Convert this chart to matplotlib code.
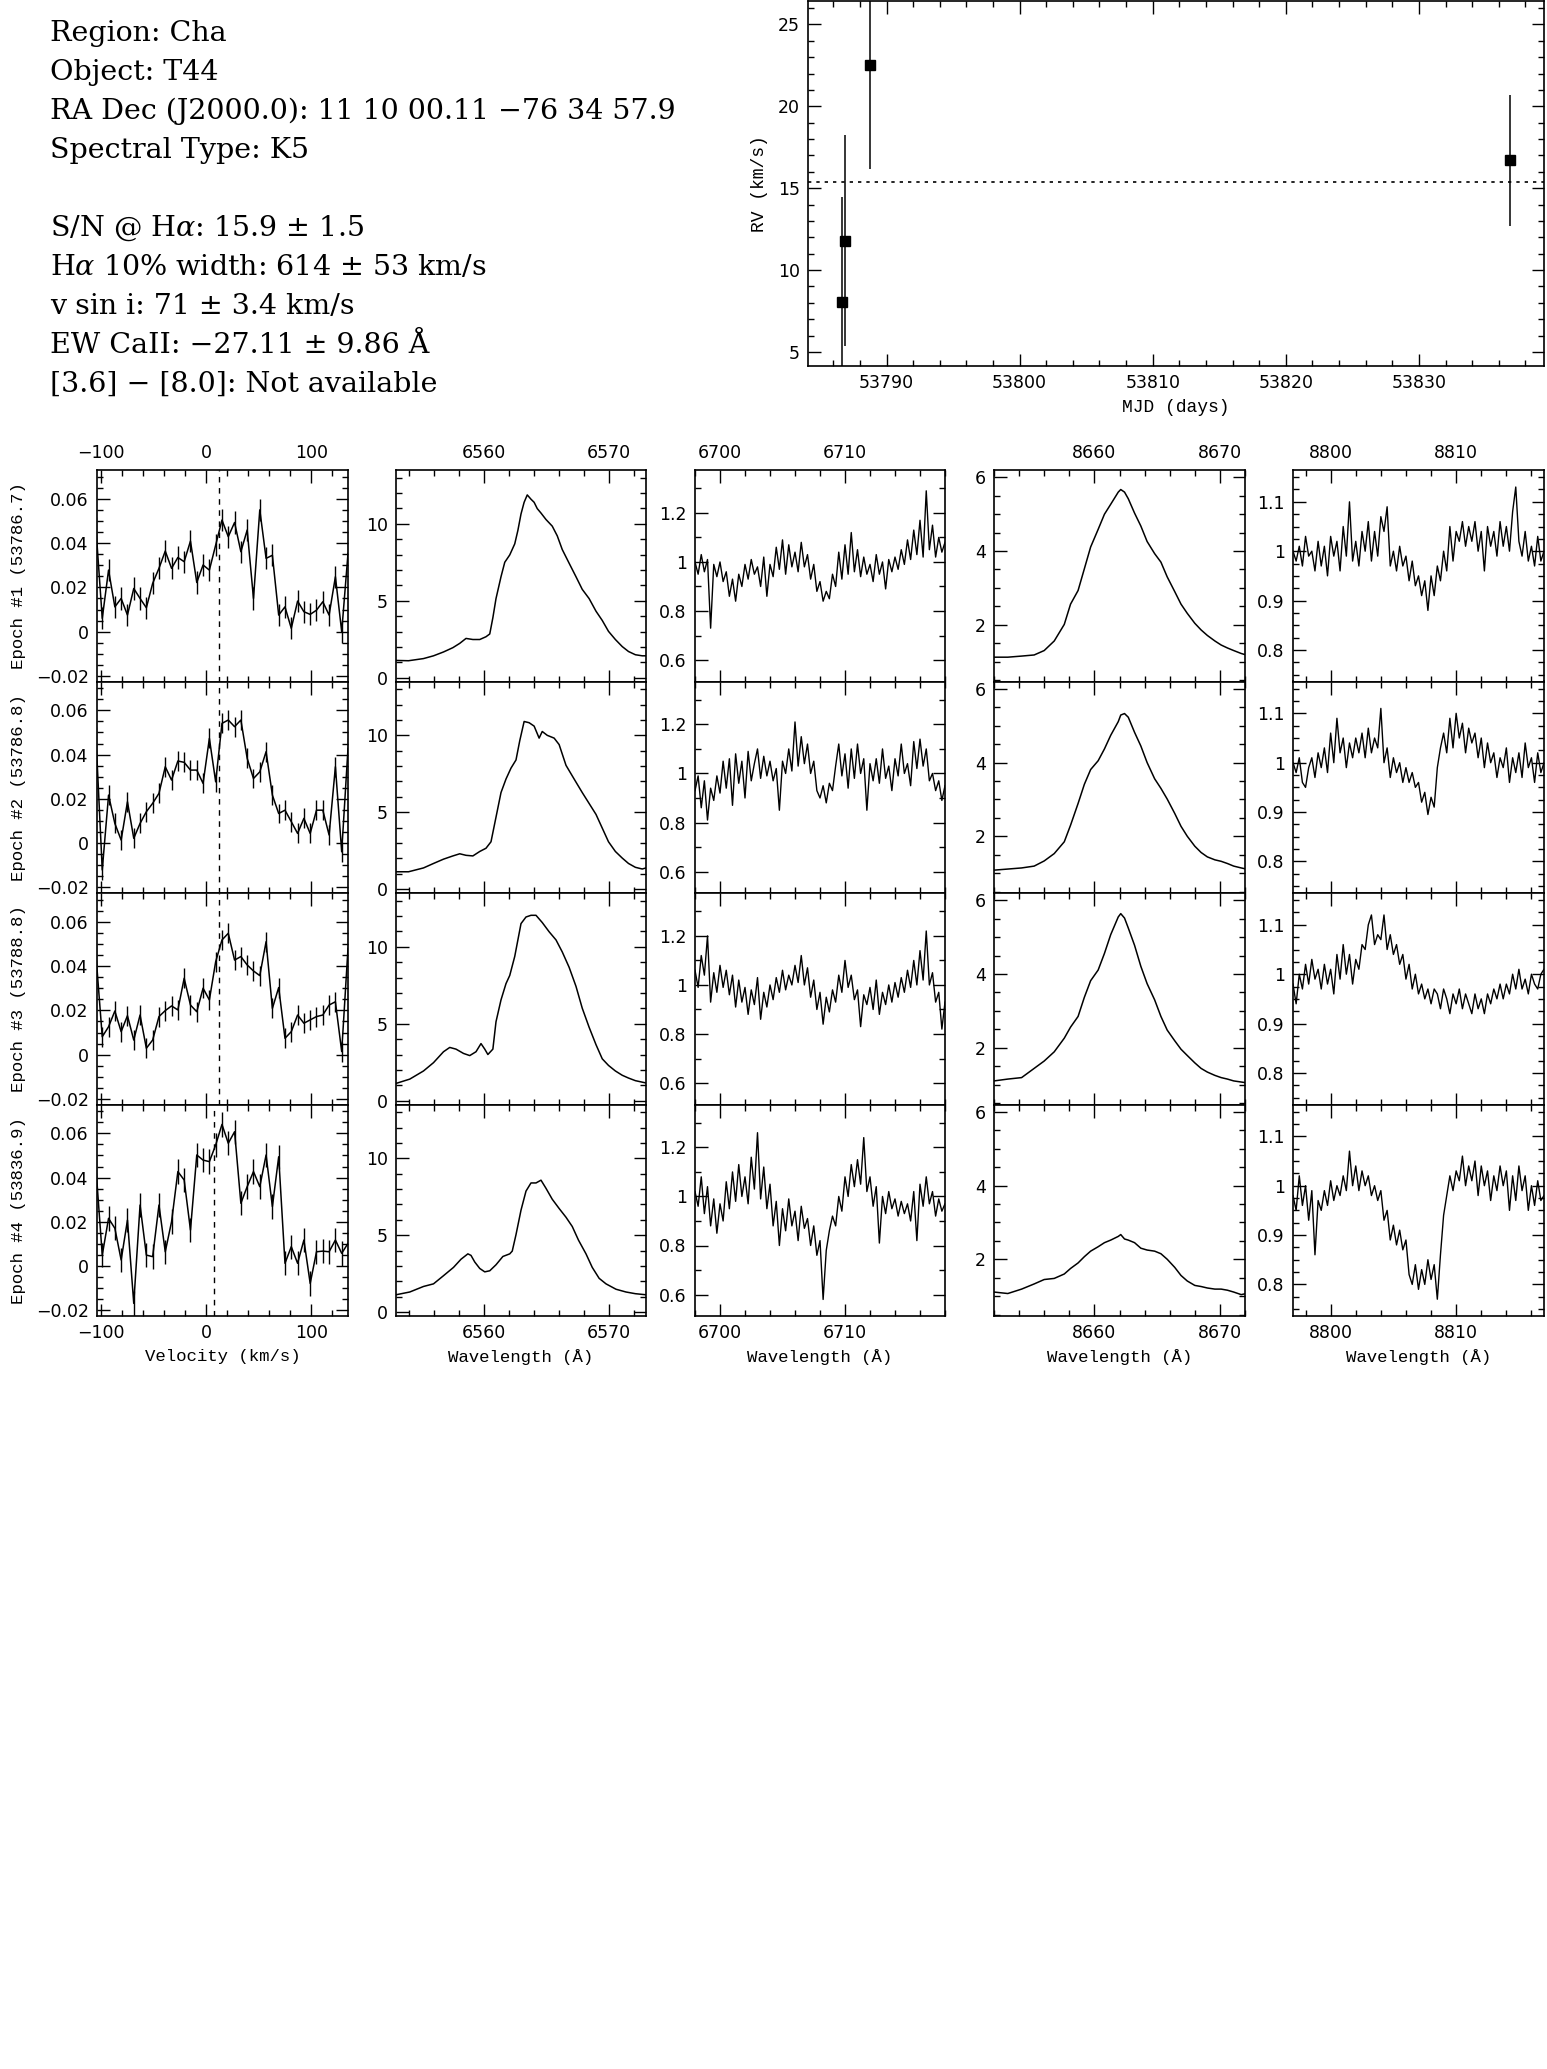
import numpy as np
import matplotlib

matplotlib.use("Agg")  # no display in the sandbox
import matplotlib.pyplot as plt
from matplotlib.ticker import MultipleLocator, FuncFormatter

# ---------------- data ----------------
INFO_LINES = [
    "Region: Cha",
    "Object: T44",
    "RA Dec (J2000.0): 11 10 00.11 \u221276 34 57.9",
    "Spectral Type: K5",
    "",
    "S/N @ H$\\alpha$: 15.9 \u00b1 1.5",
    "H$\\alpha$ 10% width: 614 \u00b1 53 km/s",
    "v sin i: 71 \u00b1 3.4 km/s",
    "EW CaII: \u221227.11 \u00b1 9.86 \u00c5",
    "[3.6] \u2212 [8.0]: Not available",
]

# radial velocity vs date
RV_MJD = [53786.65, 53786.85, 53788.75, 53836.85]
RV_VAL = [8.06, 11.8, 22.55, 16.7]
RV_ERR = [6.4, 6.45, 6.35, 3.98]
RV_MEAN = 15.4

EPOCH_MJD = ["53786.7", "53786.8", "53788.8", "53836.9"]

# cross-correlation (velocity) panels
VEL = [-105, -99, -93, -87, -81, -75, -69, -63, -57, -51, -45, -39, -33, -27,
       -21, -15, -9, -3, 3, 9, 15, 21, 27, 33, 39, 45, 51, 57, 63, 69, 75, 81,
       87, 93, 99, 105, 111, 117, 123, 129, 135]
VEL_EP1 = [0.0466, 0.0060, 0.0278, 0.0112, 0.0150, 0.0075, 0.0195, 0.0150, 0.0108, 0.0218,
           0.0286, 0.0364, 0.0286, 0.0335, 0.0316, 0.0409, 0.0222, 0.0301, 0.0278, 0.0391,
           0.0504, 0.0429, 0.0493, 0.0361, 0.0459, 0.0150, 0.0550, 0.0331, 0.0345, 0.0075,
           0.0112, 0.0015, 0.0138, 0.0090, 0.0078, 0.0097, 0.0135, 0.0075, 0.0248, 0.0000,
           0.0353]
VEL_EP2 = [0.0480, -0.0121, 0.0217, 0.0089, 0.0014, 0.0187, 0.0022, 0.0089, 0.0142, 0.0180,
           0.0225, 0.0345, 0.0285, 0.0371, 0.0365, 0.0330, 0.0330, 0.0270, 0.0473, 0.0277,
           0.0541, 0.0556, 0.0526, 0.0556, 0.0383, 0.0292, 0.0322, 0.0413, 0.0217, 0.0134,
           0.0149, 0.0097, 0.0044, 0.0112, 0.0044, 0.0149, 0.0149, 0.0037, 0.0345, -0.0039,
           0.0428]
VEL_EP3 = [0.0450, 0.0081, 0.0126, 0.0197, 0.0104, 0.0176, 0.0066, 0.0179, 0.0029, 0.0066,
           0.0172, 0.0199, 0.0220, 0.0202, 0.0345, 0.0224, 0.0194, 0.0300, 0.0247, 0.0420,
           0.0518, 0.0548, 0.0427, 0.0443, 0.0405, 0.0378, 0.0357, 0.0510, 0.0209, 0.0303,
           0.0074, 0.0104, 0.0179, 0.0142, 0.0157, 0.0172, 0.0179, 0.0224, 0.0239, 0.0014,
           0.0480]
VEL_EP4 = [0.0442, 0.0050, 0.0216, 0.0171, 0.0028, 0.0208, -0.0168, 0.0276, 0.0050, 0.0043,
           0.0276, 0.0065, 0.0201, 0.0427, 0.0389, 0.0163, 0.0502, 0.0479, 0.0472, 0.0547,
           0.0640, 0.0555, 0.0607, 0.0284, 0.0359, 0.0427, 0.0359, 0.0502, 0.0269, 0.0494,
           0.0013, 0.0088, 0.0013, 0.0118, -0.0078, 0.0065, 0.0068, 0.0065, 0.0118, 0.0058,
           0.0103]
VEL_ERR = [0.005, 0.0045, 0.0045, 0.0055]
VEL_CENTER = [12.5, 12.5, 12.5, 7.0]

# H-alpha profiles
HA_WAVE_1 = [6553.0, 6554.0, 6555.2, 6556.0, 6556.8, 6557.55, 6558.1, 6558.6, 6559.15, 6559.7,
             6560.2, 6560.5, 6560.75, 6561.0, 6561.4, 6561.7, 6562.1, 6562.5, 6562.75, 6563.0,
             6563.25, 6563.5, 6563.8, 6564.05, 6564.3, 6564.6, 6565.0, 6565.5, 6565.9, 6566.3,
             6566.85, 6567.4, 6567.9, 6568.45, 6569.0, 6569.5, 6570.0, 6570.55, 6571.1, 6571.6,
             6572.15, 6572.7, 6573.0]
HA_FLUX_1 = [1.12, 1.1, 1.24, 1.42, 1.67, 1.95, 2.23, 2.55, 2.48, 2.48,
             2.66, 2.84, 3.9, 5.14, 6.56, 7.5, 7.98, 8.7, 9.57, 10.64,
             11.4, 11.88, 11.6, 11.4, 10.99, 10.7, 10.28, 9.85, 9.22, 8.33,
             7.44, 6.56, 5.74, 5.14, 4.32, 3.72, 3.01, 2.48, 2.02, 1.7,
             1.49, 1.42, 1.42]
HA_WAVE_2 = [6553.0, 6554.0, 6555.2, 6556.0, 6556.8, 6557.55, 6558.1, 6558.6, 6559.15, 6559.7,
             6560.2, 6560.6, 6561.0, 6561.4, 6561.8, 6562.2, 6562.6, 6562.9, 6563.25, 6563.65,
             6564.05, 6564.45, 6564.7, 6565.1, 6565.65, 6566.05, 6566.6, 6567.25, 6567.9, 6568.45,
             6569.0, 6569.5, 6570.0, 6570.55, 6571.1, 6571.6, 6572.15, 6572.7, 6573.0]
HA_FLUX_2 = [1.13, 1.13, 1.38, 1.67, 1.95, 2.16, 2.3, 2.2, 2.16, 2.45,
             2.66, 3.08, 4.68, 6.28, 7.16, 7.87, 8.4, 9.65, 10.9, 10.82,
             10.6, 9.82, 10.25, 10.0, 9.82, 9.4, 8.05, 7.16, 6.28, 5.57,
             4.86, 3.97, 3.08, 2.45, 2.02, 1.67, 1.42, 1.31, 1.38]
HA_WAVE_3 = [6553.0, 6554.1, 6555.2, 6556.0, 6556.8, 6557.3, 6557.8, 6558.4, 6558.9, 6559.4,
             6559.8, 6560.1, 6560.35, 6560.75, 6561.0, 6561.4, 6561.8, 6562.1, 6562.5, 6563.0,
             6563.4, 6563.8, 6564.2, 6564.7, 6565.25, 6565.8, 6566.3, 6566.85, 6567.4, 6567.9,
             6568.45, 6569.0, 6569.5, 6570.0, 6570.55, 6571.1, 6571.6, 6572.15, 6573.0]
HA_FLUX_3 = [1.12, 1.4, 1.93, 2.47, 3.18, 3.46, 3.35, 3.07, 2.93, 3.18,
             3.71, 3.35, 3.0, 3.35, 5.13, 6.55, 7.61, 8.14, 9.38, 11.51,
             11.94, 12.05, 12.05, 11.58, 10.98, 10.45, 9.67, 8.67, 7.43, 6.01,
             4.77, 3.64, 2.72, 2.29, 1.93, 1.65, 1.47, 1.3, 1.15]
HA_WAVE_4 = [6553.0, 6554.1, 6555.2, 6556.0, 6556.8, 6557.6, 6558.2, 6558.75, 6559.0, 6559.3,
             6559.7, 6560.1, 6560.5, 6561.0, 6561.55, 6562.1, 6562.3, 6562.6, 6563.0, 6563.4,
             6563.8, 6564.2, 6564.6, 6565.0, 6565.5, 6566.05, 6566.6, 6567.1, 6567.6, 6568.2,
             6568.7, 6569.25, 6569.8, 6570.6, 6571.4, 6572.15, 6573.0]
HA_FLUX_4 = [1.13, 1.31, 1.67, 1.84, 2.37, 2.91, 3.44, 3.79, 3.69, 3.26,
             2.84, 2.62, 2.69, 3.08, 3.62, 3.79, 3.97, 5.04, 6.63, 7.87,
             8.4, 8.4, 8.58, 8.05, 7.34, 6.74, 6.17, 5.57, 4.68, 3.79,
             2.91, 2.2, 1.84, 1.49, 1.31, 1.2, 1.13]

# Li 6708 region, sampled every 0.25 A from 6698 to 6718
LI_WAVE = np.linspace(6698.0, 6718.0, 81)
LI_FLUX_1 = [1.00, 0.95, 1.03, 0.96, 1.01, 0.73, 0.99, 0.94, 1.00, 0.92,
             0.96, 0.86, 0.93, 0.84, 0.95, 0.90, 0.99, 0.93, 1.01, 0.95,
             0.98, 0.90, 1.02, 0.86, 0.99, 0.94, 1.06, 0.97, 1.09, 0.95,
             1.07, 0.98, 1.04, 0.96, 1.08, 0.98, 1.03, 0.93, 0.99, 0.88,
             0.92, 0.84, 0.88, 0.85, 0.95, 0.90, 1.04, 0.93, 1.07, 0.95,
             1.12, 0.96, 1.05, 0.94, 1.02, 0.95, 0.99, 0.92, 1.03, 0.95,
             1.00, 0.89, 1.01, 0.96, 1.02, 0.97, 1.05, 0.99, 1.09, 1.01,
             1.13, 1.03, 1.17, 1.02, 1.29, 1.05, 1.15, 1.02, 1.10, 1.04,
             1.08]
LI_FLUX_2 = [0.93, 0.99, 0.86, 0.97, 0.81, 0.94, 0.89, 0.99, 0.92, 1.05,
             0.94, 1.06, 0.87, 1.08, 0.96, 1.05, 0.90, 1.09, 0.97, 1.04,
             1.10, 0.98, 1.07, 0.99, 1.05, 0.97, 1.02, 0.85, 1.05, 1.00,
             1.10, 1.01, 1.21, 1.03, 1.15, 1.04, 1.12, 1.00, 1.05, 0.93,
             0.90, 0.95, 0.88, 0.96, 0.93, 1.03, 1.12, 0.99, 1.08, 0.94,
             1.10, 0.98, 1.12, 1.00, 1.06, 0.85, 1.04, 0.97, 1.06, 0.96,
             1.10, 0.98, 1.03, 0.93, 1.06, 0.99, 1.12, 1.00, 1.04, 0.95,
             1.13, 1.02, 1.14, 1.03, 1.10, 0.97, 1.00, 0.93, 0.97, 0.89,
             0.95]
LI_FLUX_3 = [1.06, 0.99, 1.12, 1.04, 1.20, 0.93, 1.05, 0.97, 1.08, 0.99,
             1.06, 0.96, 1.04, 0.91, 1.02, 0.93, 0.99, 0.88, 0.98, 0.92,
             1.03, 0.86, 0.97, 0.91, 1.00, 0.94, 1.03, 0.97, 1.06, 0.98,
             1.04, 1.00, 1.08, 1.01, 1.12, 1.00, 1.07, 0.95, 1.02, 0.90,
             0.97, 0.84, 0.95, 0.89, 0.98, 0.93, 1.04, 0.97, 1.10, 0.99,
             1.04, 0.94, 0.98, 0.83, 0.96, 0.92, 0.99, 0.90, 1.02, 0.88,
             0.97, 0.92, 1.00, 0.93, 1.01, 0.95, 1.03, 0.97, 1.06, 0.99,
             1.10, 1.00, 1.14, 1.02, 1.22, 1.00, 1.05, 0.93, 0.97, 0.82,
             0.93]
LI_FLUX_4 = [1.02, 0.96, 1.08, 0.93, 1.04, 0.88, 0.99, 0.85, 0.97, 0.90,
             1.06, 0.95, 1.10, 0.98, 1.13, 1.00, 1.08, 0.97, 1.16, 1.03,
             1.26, 0.99, 1.12, 0.95, 1.05, 0.88, 0.98, 0.80, 0.95, 0.86,
             0.99, 0.88, 0.94, 0.82, 0.96, 0.87, 0.91, 0.80, 0.88, 0.76,
             0.82, 0.58, 0.78, 0.86, 0.92, 0.88, 1.00, 0.94, 1.08, 1.00,
             1.13, 1.04, 1.15, 1.05, 1.24, 1.02, 1.08, 0.96, 1.04, 0.81,
             1.00, 0.93, 1.02, 0.95, 0.99, 0.92, 0.98, 0.93, 0.97, 0.90,
             1.02, 0.82, 1.05, 0.96, 1.08, 0.97, 1.02, 0.92, 0.99, 0.94,
             0.97]

# Ca II 8662 emission
CA_WAVE = [8652.0, 8653.1, 8654.2, 8655.2, 8656.0, 8656.8, 8657.6, 8658.1, 8658.7, 8659.2,
           8659.7, 8660.3, 8660.8, 8661.3, 8661.9, 8662.1, 8662.4, 8662.7, 8663.2, 8663.7,
           8664.2, 8664.8, 8665.3, 8665.8, 8666.4, 8666.9, 8667.4, 8668.0, 8668.5, 8669.0,
           8669.6, 8670.1, 8670.6, 8671.1, 8671.7, 8672.1]
CA_FLUX_1 = [1.12, 1.12, 1.15, 1.18, 1.3, 1.56, 2.01, 2.56, 2.93, 3.52,
             4.11, 4.59, 5.0, 5.27, 5.6, 5.67, 5.6, 5.42, 5.03, 4.68,
             4.26, 3.93, 3.7, 3.3, 2.9, 2.56, 2.31, 2.04, 1.86, 1.71,
             1.56, 1.45, 1.37, 1.3, 1.22, 1.18]
CA_FLUX_2 = [1.08, 1.11, 1.14, 1.19, 1.33, 1.53, 1.85, 2.3, 2.89, 3.41,
             3.81, 4.05, 4.37, 4.74, 5.11, 5.29, 5.33, 5.23, 4.82, 4.45,
             4.0, 3.56, 3.3, 3.01, 2.62, 2.27, 2.0, 1.73, 1.56, 1.44,
             1.36, 1.32, 1.26, 1.19, 1.14, 1.11]
CA_FLUX_3 = [1.1, 1.15, 1.19, 1.44, 1.64, 1.89, 2.26, 2.56, 2.85, 3.37,
             3.82, 4.11, 4.56, 5.07, 5.55, 5.64, 5.52, 5.25, 4.78, 4.21,
             3.74, 3.3, 2.85, 2.48, 2.19, 1.96, 1.79, 1.59, 1.44, 1.34,
             1.25, 1.19, 1.15, 1.1, 1.07, 1.05]
CA_FLUX_4 = [1.11, 1.07, 1.19, 1.33, 1.45, 1.48, 1.6, 1.75, 1.9, 2.07,
             2.22, 2.34, 2.45, 2.52, 2.62, 2.67, 2.55, 2.52, 2.45, 2.3,
             2.25, 2.22, 2.15, 2.0, 1.78, 1.56, 1.41, 1.29, 1.26, 1.22,
             1.19, 1.19, 1.16, 1.11, 1.04, 1.07]

# 8797-8817 A region, sampled every 0.25 A
IR_WAVE = np.linspace(8797.0, 8817.0, 81)
IR_FLUX_1 = [1.00, 0.98, 1.01, 0.97, 1.03, 0.99, 1.00, 0.96, 1.02, 0.97,
             1.01, 0.95, 1.03, 0.99, 1.02, 0.96, 1.05, 0.99, 1.10, 0.98,
             1.02, 0.97, 1.04, 1.00, 1.06, 0.98, 1.04, 0.99, 1.07, 1.04,
             1.09, 0.97, 1.00, 0.96, 1.01, 0.97, 0.99, 0.94, 0.98, 0.93,
             0.95, 0.91, 0.94, 0.88, 0.95, 0.91, 0.97, 0.94, 1.00, 0.96,
             1.05, 0.98, 1.04, 1.02, 1.06, 1.01, 1.05, 1.02, 1.06, 1.00,
             1.04, 0.96, 1.05, 1.01, 1.04, 0.99, 1.06, 1.01, 1.05, 1.00,
             1.08, 1.13, 1.02, 0.99, 1.04, 0.98, 1.01, 0.97, 1.03, 0.98,
             1.00]
IR_FLUX_2 = [1.00, 0.98, 1.01, 0.96, 0.95, 0.99, 1.01, 0.97, 1.02, 0.99,
             1.03, 0.98, 1.06, 1.00, 1.09, 1.02, 1.05, 0.99, 1.04, 1.01,
             1.05, 1.02, 1.06, 1.01, 1.07, 1.02, 1.05, 1.03, 1.11, 1.00,
             1.03, 0.97, 1.01, 0.98, 1.00, 0.96, 0.99, 0.96, 0.98, 0.95,
             0.96, 0.92, 0.94, 0.895, 0.93, 0.91, 0.99, 1.03, 1.06, 1.02,
             1.09, 1.03, 1.10, 1.05, 1.08, 1.02, 1.07, 1.04, 1.06, 1.01,
             1.05, 0.99, 1.04, 1.00, 1.02, 0.97, 1.01, 0.99, 1.03, 0.96,
             1.01, 0.98, 1.02, 0.97, 1.04, 0.99, 1.01, 0.96, 1.02, 0.98,
             1.00]
IR_FLUX_3 = [0.98, 0.94, 1.00, 0.97, 1.02, 0.98, 1.03, 0.99, 1.01, 0.97,
             1.02, 0.98, 1.01, 0.96, 1.04, 0.99, 1.06, 1.00, 1.04, 0.98,
             1.03, 1.01, 1.06, 1.05, 1.10, 1.12, 1.06, 1.08, 1.07, 1.12,
             1.05, 1.08, 1.04, 1.06, 1.02, 1.04, 0.99, 1.02, 0.97, 1.00,
             0.96, 0.98, 0.95, 0.97, 0.94, 0.97, 0.96, 0.93, 0.97, 0.95,
             0.92, 0.96, 0.94, 0.97, 0.93, 0.96, 0.94, 0.92, 0.96, 0.93,
             0.95, 0.92, 0.96, 0.94, 0.97, 0.95, 0.98, 0.95, 0.98, 0.96,
             1.00, 0.97, 1.01, 0.97, 0.99, 0.96, 1.00, 0.98, 0.97, 1.00,
             1.01]
IR_FLUX_4 = [0.98, 0.95, 1.02, 0.96, 1.00, 0.93, 0.99, 0.86, 0.97, 0.95,
             0.99, 0.96, 1.01, 0.97, 1.00, 0.98, 1.02, 0.99, 1.07, 1.00,
             1.04, 0.99, 1.03, 1.00, 1.02, 0.98, 1.00, 0.97, 0.99, 0.93,
             0.95, 0.89, 0.92, 0.88, 0.91, 0.87, 0.89, 0.82, 0.80, 0.84,
             0.79, 0.83, 0.80, 0.85, 0.81, 0.84, 0.77, 0.86, 0.94, 0.98,
             1.02, 0.99, 1.03, 1.01, 1.06, 1.00, 1.04, 1.01, 1.05, 0.98,
             1.04, 1.00, 1.03, 0.97, 1.02, 0.99, 1.04, 1.00, 1.03, 0.95,
             1.02, 0.97, 1.04, 0.99, 1.02, 0.95, 1.00, 0.96, 1.01, 0.97,
             0.98]

# ---------------- figure ----------------
W, H = 1547, 2069
plt.rcParams["font.family"] = "DejaVu Sans"
plt.rcParams["mathtext.fontset"] = "dejavuserif"

fig = plt.figure(figsize=(W / 100, H / 100), dpi=100)
fig.patch.set_facecolor("white")

LABEL_FONT = "Liberation Mono"


def px_axes(x0, y0, x1, y1):
    # axes placed by pixel box (top-left origin like the picture)
    return fig.add_axes([x0 / W, 1 - y1 / H, (x1 - x0) / W, (y1 - y0) / H])


def fmt(v, pos):
    return ("%g" % round(v, 6)).replace("-", "\u2212")


def style(ax, xmaj, xmin, ymaj, ymin):
    ax.xaxis.set_major_locator(MultipleLocator(xmaj))
    ax.xaxis.set_minor_locator(MultipleLocator(xmin))
    ax.yaxis.set_major_locator(MultipleLocator(ymaj))
    ax.yaxis.set_minor_locator(MultipleLocator(ymin))
    ax.xaxis.set_major_formatter(FuncFormatter(fmt))
    ax.yaxis.set_major_formatter(FuncFormatter(fmt))
    ax.tick_params(which="both", direction="in", top=True, right=True,
                   width=1.0, labelsize=12.5, pad=6)
    ax.tick_params(which="major", length=9)
    ax.tick_params(which="minor", length=4.5)
    for s in ax.spines.values():
        s.set_linewidth(1.2)


# text block, upper left
y = 41
for line in INFO_LINES:
    if line:
        fig.text(50 / W, 1 - y / H, line, family="DejaVu Serif", fontsize=20.5,
                 ha="left", va="baseline")
    y += 39

# RV plot, upper right
ax = px_axes(808, 1, 1544, 366)
ax.errorbar(RV_MJD, RV_VAL, yerr=RV_ERR, fmt="s", color="k", ms=6.5,
            elinewidth=1.1, capsize=0)
ax.axhline(RV_MEAN, color="k", lw=1.2, ls=(0, (2, 3)))
ax.set_xlim(53784.1, 53839.4)
ax.set_ylim(4.14, 26.43)
style(ax, 10, 2, 5, 1)
ax.set_xlabel("MJD (days)", family=LABEL_FONT, fontsize=13)
ax.set_ylabel("RV (km/s)", family=LABEL_FONT, fontsize=13)
ax.xaxis.set_label_coords(0.5, -0.09)
ax.yaxis.set_label_coords(-0.054, 0.5)

# grid of spectra
col_x = [(97, 348), (396, 646), (695, 945), (994, 1245), (1293, 1544)]
row_y = [470, 681.5, 893, 1104.5, 1316]

col_setup = [
    dict(xlim=(-104, 135), tick=(100, 20), ylim=(-0.0225, 0.073), ytick=(0.02, 0.005),
         xlabel="Velocity (km/s)"),
    dict(xlim=(6553, 6573), tick=(10, 2), ylim=(-0.25, 13.5), ytick=(5, 1),
         xlabel="Wavelength (\u00c5)"),
    dict(xlim=(6698, 6718), tick=(10, 2), ylim=(0.5125, 1.375), ytick=(0.2, 0.1),
         xlabel="Wavelength (\u00c5)"),
    dict(xlim=(8652, 8672), tick=(10, 2), ylim=(0.46, 6.2), ytick=(2, 0.5),
         xlabel="Wavelength (\u00c5)"),
    dict(xlim=(8797, 8817), tick=(10, 2), ylim=(0.736, 1.1645), ytick=(0.1, 0.025),
         xlabel="Wavelength (\u00c5)"),
]

vel_rows = [VEL_EP1, VEL_EP2, VEL_EP3, VEL_EP4]
ha_rows = [(HA_WAVE_1, HA_FLUX_1), (HA_WAVE_2, HA_FLUX_2),
           (HA_WAVE_3, HA_FLUX_3), (HA_WAVE_4, HA_FLUX_4)]
li_rows = [LI_FLUX_1, LI_FLUX_2, LI_FLUX_3, LI_FLUX_4]
ca_rows = [CA_FLUX_1, CA_FLUX_2, CA_FLUX_3, CA_FLUX_4]
ir_rows = [IR_FLUX_1, IR_FLUX_2, IR_FLUX_3, IR_FLUX_4]

for c, cfg in enumerate(col_setup):
    for r in range(4):
        ax = px_axes(col_x[c][0], row_y[r], col_x[c][1], row_y[r + 1])
        if c == 0:
            ax.errorbar(VEL, vel_rows[r], yerr=VEL_ERR[r], color="k", lw=1.1,
                        elinewidth=1.0, capsize=0)
            ax.axvline(VEL_CENTER[r], color="k", lw=1.0, ls=(0, (4, 4)))
            ax.set_ylabel("Epoch #%d (%s)" % (r + 1, EPOCH_MJD[r]),
                          family=LABEL_FONT, fontsize=12.5)
            ax.yaxis.set_label_coords(-0.283, 0.5)
        elif c == 1:
            ax.plot(ha_rows[r][0], ha_rows[r][1], color="k", lw=1.1)
        elif c == 2:
            ax.plot(LI_WAVE, li_rows[r], color="k", lw=1.0)
        elif c == 3:
            ax.plot(CA_WAVE, ca_rows[r], color="k", lw=1.1)
        else:
            ax.plot(IR_WAVE, ir_rows[r], color="k", lw=1.0)

        ax.set_xlim(*cfg["xlim"])
        ax.set_ylim(*cfg["ylim"])
        style(ax, cfg["tick"][0], cfg["tick"][1], cfg["ytick"][0], cfg["ytick"][1])
        ax.tick_params(labeltop=(r == 0), labelbottom=(r == 3))
        if r == 3:
            ax.set_xlabel(cfg["xlabel"], family=LABEL_FONT, fontsize=12.5)
            ax.xaxis.set_label_coords(0.5, -0.156)

plt.savefig("out.png", dpi=100, facecolor="white")
plt.close()
